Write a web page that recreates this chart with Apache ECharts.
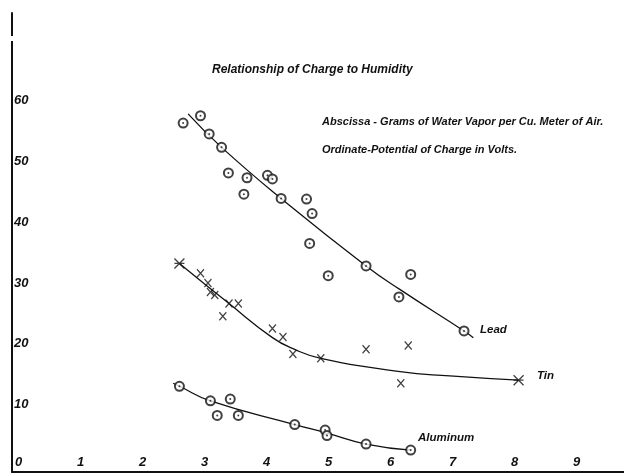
<!DOCTYPE html>
<html><head><meta charset="utf-8">
<script src="https://cdn.jsdelivr.net/npm/echarts@6/dist/echarts.min.js"></script>
<style>html,body{margin:0;padding:0;background:#fff}#c{width:624px;height:474px}</style>
</head><body><div id="c"></div>
<script>
// Humidity (g water vapor per cubic metre) vs. potential of charge (volts)
const leadPoints = [[2.76,57.4],[3.04,58.6],[3.18,55.6],[3.38,53.4],[3.49,49.2],[3.79,48.4],[3.74,45.7],[4.12,48.8],[4.20,48.2],[4.34,45.0],[4.75,44.9],[4.84,42.5],[4.80,37.6],[5.10,32.3],[5.71,33.9],[6.43,32.5],[6.24,28.8],[7.29,23.2]];
const leadCurve = [[2.84,58.9],[3.38,53.4],[4.34,45.0],[5.71,33.9],[6.26,30.0],[7.29,23.2],[7.44,22.1]];

const tinPoints = [[3.04,32.7],[3.16,31.1],[3.20,29.6],[3.27,29.1],[3.50,27.7],[3.65,27.7],[3.40,25.6],[4.20,23.6],[4.37,22.2],[4.53,19.4],[4.98,18.7],[5.71,20.2],[6.39,20.8],[6.27,14.6]];
const tinStars = [[2.70,34.3],[8.17,15.1]];
const tinCurve = [[2.70,34.3],[3.50,27.7],[4.20,22.1],[4.55,20.2],[4.98,18.7],[6.26,16.5],[7.06,15.8],[8.17,15.1]];

const aluminumPoints = [[2.70,14.1],[3.20,11.7],[3.52,12.0],[3.31,9.3],[3.65,9.3],[4.56,7.8],[5.05,6.9],[5.08,6.0],[5.71,4.6],[6.43,3.6]];
const aluminumCurve = [[2.60,14.6],[2.70,14.1],[3.20,11.7],[4.56,7.8],[5.08,6.4],[5.71,4.6],[6.43,3.6]];

const xTicks = [0,1,2,3,4,5,6,7,8,9];
const xTickLabels = ['0','1','2','3','4','5','6','7','8','9'];
const yTicks = [10,20,30,40,50,60];
const yTickLabels = ['10','20','30','40','50','60'];

const FONT = "'Liberation Sans', 'DejaVu Sans', sans-serif";
const INK = '#111';

const chart = echarts.init(document.getElementById('c'), null, {renderer:'canvas'});

const circleSeries = (data) => [
  {type:'scatter', data, symbol:'emptyCircle', symbolSize:9,
   itemStyle:{color:INK, borderColor:INK, borderWidth:1.3}, z:3, silent:true},
  {type:'scatter', data, symbol:'circle', symbolSize:2,
   itemStyle:{color:INK}, z:4, silent:true}
];
const curveSeries = (data) => ({type:'line', data, smooth:0.5, showSymbol:false,
  lineStyle:{color:INK, width:1.3}, z:2, silent:true});

chart.setOption({
  animation:false,
  backgroundColor:'#fff',
  grid:{left:12, right:0, top:13, bottom:2, containLabel:false},
  xAxis:{type:'value', min:0, max:9.87, interval:1,
    axisLine:{show:true, lineStyle:{color:INK, width:2}},
    axisTick:{show:false}, splitLine:{show:false},
    axisLabel:{inside:true, margin:3, align:'left', padding:[0,0,0,3],
      showMaxLabel:false,
      fontFamily:FONT, fontStyle:'italic', fontWeight:'bold', fontSize:13, color:INK,
      formatter:v => { const i = xTicks.indexOf(v); return i >= 0 ? xTickLabels[i] : ''; }}
  },
  yAxis:{type:'value', min:0, max:75.5, interval:10,
    axisLine:{show:true, lineStyle:{color:INK, width:2}},
    axisTick:{show:false}, splitLine:{show:false},
    axisLabel:{inside:true, margin:2, verticalAlign:'bottom',
      showMinLabel:false, showMaxLabel:false,
      fontFamily:FONT, fontStyle:'italic', fontWeight:'bold', fontSize:13, color:INK,
      formatter:v => { const i = yTicks.indexOf(v); return i >= 0 ? yTickLabels[i] : ''; }}
  },
  graphic:[
    {type:'rect', shape:{x:9, y:36, width:6, height:5}, style:{fill:'#fff'}, z:100},
    {type:'text', left:212, top:64, style:{text:'Relationship of Charge to Humidity',
      font:"italic bold 12px "+FONT, fill:INK}},
    {type:'text', left:322, top:116, style:{text:'Abscissa - Grams of Water Vapor per Cu. Meter of Air.',
      font:"italic bold 11px "+FONT, fill:INK}},
    {type:'text', left:322, top:144, style:{text:'Ordinate-Potential of Charge in Volts.',
      font:"italic bold 11px "+FONT, fill:INK}},
    {type:'text', left:480, top:324, style:{text:'Lead', font:"italic bold 11.5px "+FONT, fill:INK}},
    {type:'text', left:537, top:370, style:{text:'Tin', font:"italic bold 11.5px "+FONT, fill:INK}},
    {type:'text', left:418, top:432, style:{text:'Aluminum', font:"italic bold 11.5px "+FONT, fill:INK}}
  ],
  series:[
    curveSeries(leadCurve),
    ...circleSeries(leadPoints),
    curveSeries(tinCurve),
    {type:'scatter', data:tinPoints, symbol:'path://M0,0L10,10M10,0L0,10', symbolSize:[7,8],
     itemStyle:{color:'none', borderColor:INK, borderWidth:1.3}, z:3, silent:true},
    {type:'scatter', data:tinStars, symbol:'path://M0,0L10,10M10,0L0,10M0,5L10,5', symbolSize:[10,10],
     itemStyle:{color:'none', borderColor:INK, borderWidth:1.3}, z:3, silent:true},
    curveSeries(aluminumCurve),
    ...circleSeries(aluminumPoints)
  ]
});
</script></body></html>
